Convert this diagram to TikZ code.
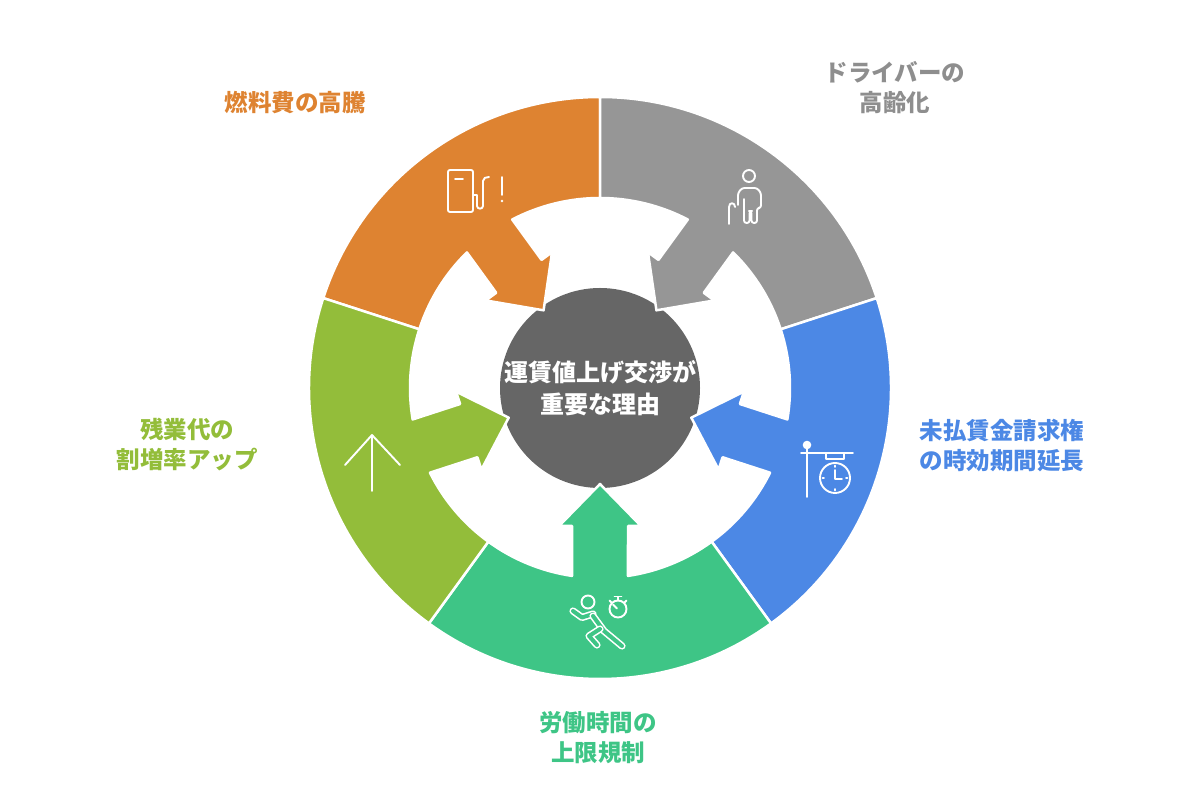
\documentclass[tikz,border=0pt]{standalone}
\usepackage{fontspec}
\setmainfont{Noto Sans CJK JP}
\definecolor{fuelc}{HTML}{DE8331}
\definecolor{agec}{HTML}{969696}
\definecolor{agetext}{HTML}{8E8E8E}
\definecolor{wagec}{HTML}{4C88E5}
\definecolor{laborc}{HTML}{3EC586}
\definecolor{overc}{HTML}{93BD3A}
\definecolor{hubc}{HTML}{666666}
\begin{document}
\begin{tikzpicture}[x=1pt,y=1pt,
    seg/.style={draw=white,line width=2.5pt,line join=round},
    lbl/.style={font=\fontsize{23.5}{30}\selectfont\bfseries,align=center},
    icon/.style={draw=white,line width=1.9pt,line cap=round,line join=round},
    runner/.style={draw=white,line width=1.6pt,double=laborc,double distance=4pt,line cap=round,line join=round}]
\useasboundingbox (0,0) rectangle (1200,800);
\node[circle,fill=hubc,minimum size=200pt,inner sep=0pt] (hub) at (600,412) {};
% ring segments, each with its arrow into the hub
\foreach \m/\c in {126/fuelc,54/agec,-18/wagec,-90/laborc,198/overc}{
  \begin{scope}[shift={(600,412)},rotate=\m]
    \path[seg,fill=\c] (-36:291) arc[start angle=-36,end angle=36,radius=291]
      -- (36:190) arc[start angle=36,end angle=8.47,radius=190]
      -- (138,28) -- (138,41) -- (96,0) -- (138,-41) -- (138,-28)
      -- (-8.47:190) arc[start angle=-8.47,end angle=-36,radius=190] -- cycle;
  \end{scope}
}
\node[font=\fontsize{24}{32}\selectfont\bfseries,text=white,align=center] (hubtext) at (hub) {運賃値上げ交渉が\\重要な理由};
% labels
\node[lbl,text=fuelc] (fuel) at (295,697) {燃料費の高騰};
\node[lbl,text=agetext] (age) at (895,712) {ドライバーの\\高齢化};
\node[lbl,text=wagec] (wage) at (1002,354) {未払賃金請求権\\の時効期間延長};
\node[lbl,text=overc] (over) at (187,355) {残業代の\\割増率アップ};
\node[lbl,text=laborc] (labor) at (598,62) {労働時間の\\上限規制};
% icons (image coordinates)
\begin{scope}[shift={(0,800)},yscale=-1]
  % fuel pump
  \draw[icon,rounded corners=2] (448,170) rectangle (473,212);
  \draw[icon] (455,179) -- (463,179);
  \draw[icon] (473,195) -- (477,195) -- (477,206) .. controls (477,209.5) and (483,209.5) .. (483,206)
    -- (483,181) .. controls (483,178) and (486,177) .. (489,177);
  \draw[icon] (502,177) -- (502,195);
  \fill[white] (502,201) circle (1.4);
  % elderly person
  \draw[icon] (749,176) circle (6);
  \draw[icon,rounded corners=2.5] (738,205) -- (738,193) -- (742,188) -- (757,188) -- (761,193)
    -- (761,208) -- (757,208) -- (757,223) -- (751.5,223) -- (751.5,211) -- (749.5,211) -- (749.5,223)
    -- (744,223) -- (744,199);
  \draw[icon] (729,224) -- (729,207) .. controls (729,202) and (735,202) .. (735,207);
  % sign with clock
  \fill[white] (807,445) circle (4.3);
  \draw[icon] (807,449) -- (807,497);
  \draw[icon] (801,453) -- (853,453);
  \draw[icon] (826,453) -- (826,459) -- (844,459) -- (844,453);
  \draw[icon] (835,478) circle (15);
  \draw[icon] (835,465.5) -- (835,467) (835,489) -- (835,490.5) (822.5,478) -- (824,478) (846,478) -- (847.5,478);
  \draw[icon] (835,470) -- (835,479) -- (842,479);
  % up arrow
  \draw[icon] (345,465) -- (372,435) -- (400,465);
  \draw[icon] (372,436) -- (372,491);
  % runner with stopwatch
  \draw[icon] (588,602) circle (6.5);
  \draw[icon] (618,609) circle (8.5);
  \draw[icon] (618,600.5) -- (618,597) (614.5,596.5) -- (621.5,596.5);
  \draw[icon] (624.5,602.5) -- (626.5,600.5) (611.5,602.5) -- (609.5,600.5);
  \draw[icon] (613,604.5) -- (617,608.5);
  \draw[runner] (573,611) -- (582,617.5) -- (593,614);
  \draw[runner] (593,616) -- (604,631) -- (622,646);
  \draw[runner] (600,629) -- (589,636) -- (597,645);
\end{scope}
\end{tikzpicture}
\end{document}
